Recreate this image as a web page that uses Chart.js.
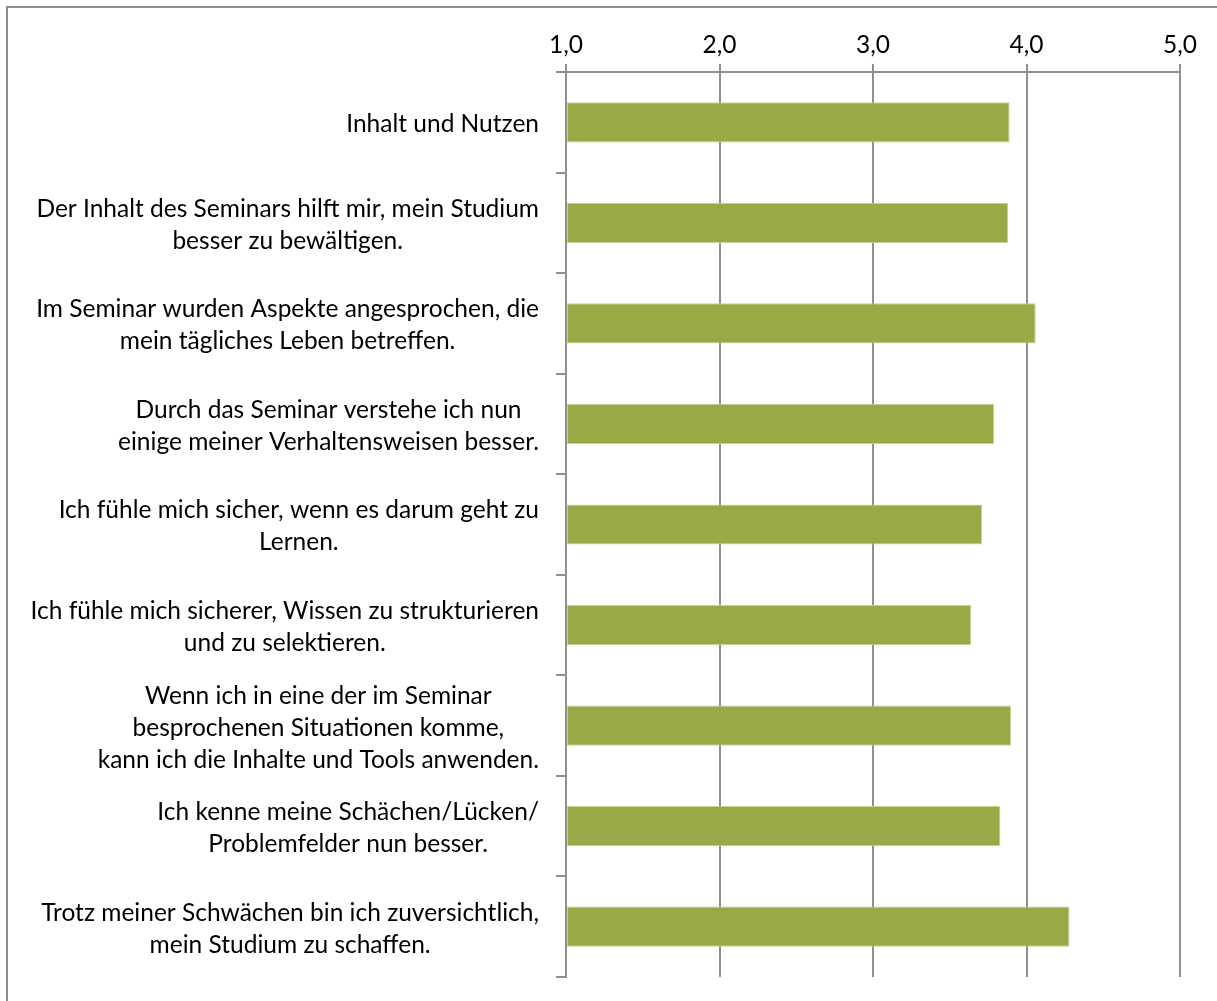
<!DOCTYPE html>
<html>
<head>
<meta charset="utf-8">
<script src="https://cdn.jsdelivr.net/npm/chart.js@4.4.1/dist/chart.umd.min.js"></script>
<style>
  html, body { margin: 0; padding: 0; background: #fff; }
  #wrap { position: relative; width: 1217px; height: 1001px; overflow: hidden; }
  #frame { position: absolute; left: 6px; top: 6px; right: -10px; bottom: -10px;
           border-left: 2px solid #8d8d8d; border-top: 2px solid #8d8d8d; }
  canvas { position: absolute; left: 0; top: 0; }
</style>
</head>
<body>
<div id="wrap"><div id="frame"></div><canvas id="chart" width="1217" height="1001"></canvas></div>
<script>
var categories = [
  ['Inhalt und Nutzen'],
  ['Der Inhalt des Seminars hilft mir, mein Studium', 'besser zu bewältigen.'],
  ['Im Seminar wurden Aspekte angesprochen, die', 'mein tägliches Leben betreffen.'],
  ['Durch das Seminar verstehe ich nun', 'einige meiner Verhaltensweisen besser.'],
  ['Ich fühle mich sicher, wenn es darum geht zu', 'Lernen.'],
  ['Ich fühle mich sicherer, Wissen zu strukturieren', 'und zu selektieren.'],
  ['Wenn ich in eine der im Seminar', 'besprochenen Situationen komme,', 'kann ich die Inhalte und Tools anwenden.'],
  ['Ich kenne meine Schächen/Lücken/', 'Problemfelder nun besser.'],
  ['Trotz meiner Schwächen bin ich zuversichtlich,', 'mein Studium zu schaffen.']
];
var scores = [3.89, 3.88, 4.06, 3.79, 3.71, 3.64, 3.90, 3.83, 4.28];
var axisMin = 1;
var axisMax = 5;

var FONT = 'Lato';
var FONT_SIZE = 24.5;
var LINE_H = 32;
var GRID = '#8f8f8f';

// category labels: lines centred within their own block, block right-aligned to the axis
var labelPlugin = {
  id: 'catLabels',
  afterDraw: function (chart) {
    var ctx = chart.ctx;
    var y = chart.scales.y;
    var right = y.right - 27;
    ctx.save();
    ctx.font = FONT_SIZE + 'px ' + FONT;
    ctx.fillStyle = '#000';
    ctx.textAlign = 'center';
    ctx.textBaseline = 'middle';
    categories.forEach(function (lines, i) {
      var w = 0;
      lines.forEach(function (l) { w = Math.max(w, ctx.measureText(l).width); });
      var cx = right - w / 2;
      var cy = y.getPixelForTick(i) + 2;
      var top = cy - (lines.length - 1) * LINE_H / 2;
      lines.forEach(function (l, k) { ctx.fillText(l, cx, top + k * LINE_H); });
    });
    ctx.restore();
  }
};

new Chart(document.getElementById('chart'), {
  type: 'bar',
  data: {
    labels: categories,
    datasets: [{
      data: scores,
      base: axisMin,
      backgroundColor: '#98aa45',
      borderColor: '#c6d195',
      borderWidth: 1,
      borderSkipped: false,
      barPercentage: 0.4,
      categoryPercentage: 1
    }]
  },
  options: {
    indexAxis: 'y',
    responsive: false,
    animation: false,
    layout: { padding: { top: 0, left: 0, right: 37, bottom: 24 } },
    plugins: { legend: { display: false }, tooltip: { enabled: false } },
    scales: {
      x: {
        position: 'top',
        min: axisMin,
        max: axisMax,
        afterFit: function (s) { s.height = 72; },
        ticks: {
          stepSize: 1,
          padding: 4,
          color: '#000',
          font: { family: FONT, size: FONT_SIZE },
          callback: function (v) { return v.toFixed(1).replace('.', ','); }
        },
        grid: { color: GRID, lineWidth: 2, tickLength: 8 },
        border: { color: GRID, width: 2 }
      },
      y: {
        afterFit: function (s) { s.width = 566; },
        ticks: { callback: function () { return ''; } },
        grid: { color: GRID, lineWidth: 2, tickLength: 10, drawOnChartArea: false },
        border: { color: GRID, width: 2 }
      }
    }
  },
  plugins: [labelPlugin]
});
</script>
</body>
</html>
